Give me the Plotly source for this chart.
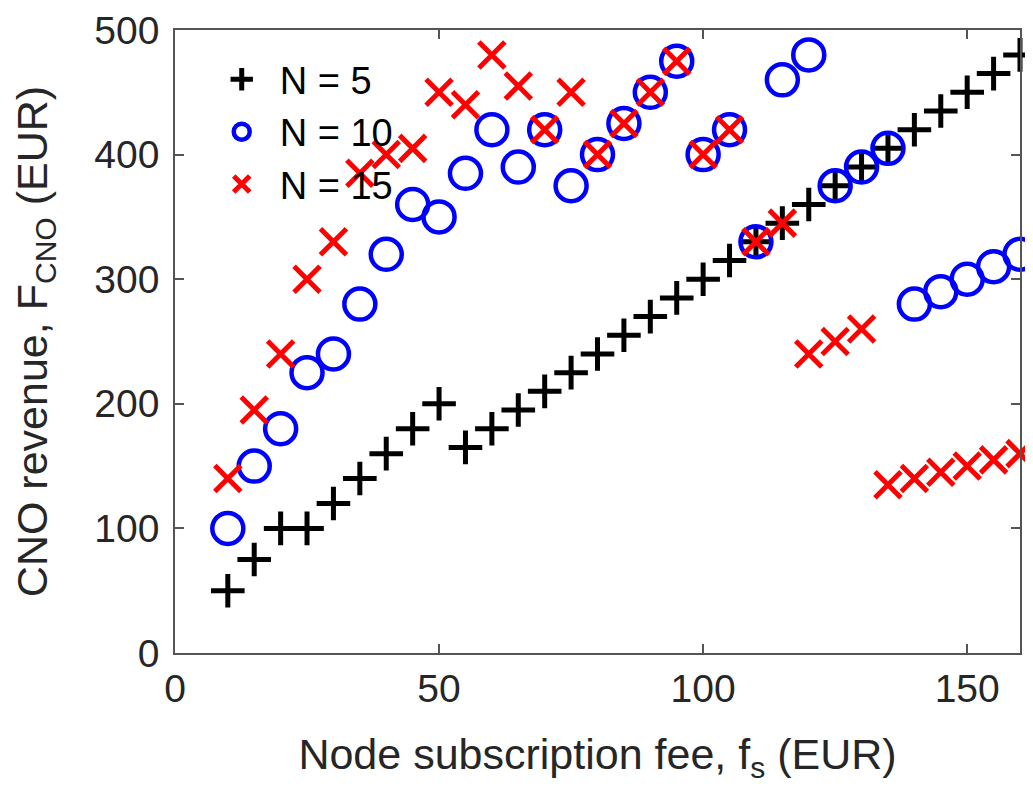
import plotly.graph_objects as go

# Node subscription fee f_s (EUR)
fee = [10, 15, 20, 25, 30, 35, 40, 45, 50, 55, 60, 65, 70, 75, 80, 85, 90, 95,
       100, 105, 110, 115, 120, 125, 130, 135, 140, 145, 150, 155, 160]

# CNO revenue (EUR) for each number of nodes
rev_n5 = [50, 75, 100, 100, 120, 140, 160, 180, 200, 165, 180, 195, 210, 225, 240, 255,
          270, 285, 300, 315, 330, 345, 360, 375, 390, 405, 420, 435, 450, 465, 480]
rev_n10 = [100, 150, 180, 225, 240, 280, 320, 360, 350, 385, 420, 390, 420, 375, 400, 425,
           450, 475, 400, 420, 330, 460, 480, 375, 390, 405, 280, 290, 300, 310, 320]
rev_n15 = [140, 195, 240, 300, 330, 385, 400, 405, 450, 440, 480, 455, 420, 450, 400, 425,
           450, 475, 400, 420, 330, 345, 240, 250, 260, 135, 140, 145, 150, 155, 160]

x_ticks = [0, 50, 100, 150]
y_ticks = [0, 100, 200, 300, 400, 500]

FONT = "Liberation Sans, Arial, Helvetica, sans-serif"
TXT = "#262626"
AX = "#555555"

fig = go.Figure()
fig.add_trace(go.Scatter(
    x=fee, y=rev_n5, mode="markers", name="N = 5", cliponaxis=False,
    marker=dict(symbol="cross-thin", size=24, color="black",
                line=dict(width=5, color="black"))))
fig.add_trace(go.Scatter(
    x=fee, y=rev_n10, mode="markers", name="N = 10", cliponaxis=False,
    marker=dict(symbol="circle-open", size=31, color="#0000ff",
                line=dict(width=4.5, color="#0000ff"))))
fig.add_trace(go.Scatter(
    x=fee, y=rev_n15, mode="markers", name="N = 15", cliponaxis=False,
    marker=dict(symbol="x-thin", size=26, color="#ff0000",
                line=dict(width=5, color="#ff0000"))))

axis_common = dict(
    showgrid=False, zeroline=False, showline=True, linecolor=AX, linewidth=1.5,
    mirror="ticks", ticks="inside", ticklen=9, tickwidth=1.5, tickcolor=AX,
    tickfont=dict(family=FONT, size=39, color=TXT), automargin=False,
    ticklabeloverflow="allow",
)

# page body has an 8px margin, so the figure is sized to fit the 1033x796 window
fig.update_layout(
    width=1017, height=780,
    margin=dict(l=167, r=5, t=22, b=135),
    paper_bgcolor="white", plot_bgcolor="white",
    font=dict(family=FONT, color=TXT),
    xaxis=dict(range=[0, 160], tickvals=x_ticks,
               title=dict(text="Node subscription fee, f<sub>s</sub> (EUR)",
                          font=dict(family=FONT, size=43, color=TXT), standoff=30),
               **axis_common),
    yaxis=dict(range=[0, 500], tickvals=y_ticks, ticklabelstandoff=6,
               title=dict(text="CNO revenue, F<sub>CNO</sub> (EUR)",
                          font=dict(family=FONT, size=43, color=TXT), standoff=38),
               **axis_common),
    legend=dict(x=0.034, y=0.971, xanchor="left", yanchor="top",
                bgcolor="rgba(0,0,0,0)", borderwidth=0,
                font=dict(family=FONT, size=38, color="black"),
                itemwidth=66, tracegroupgap=0),
    showlegend=True,
)

fig.write_html("out.html")
